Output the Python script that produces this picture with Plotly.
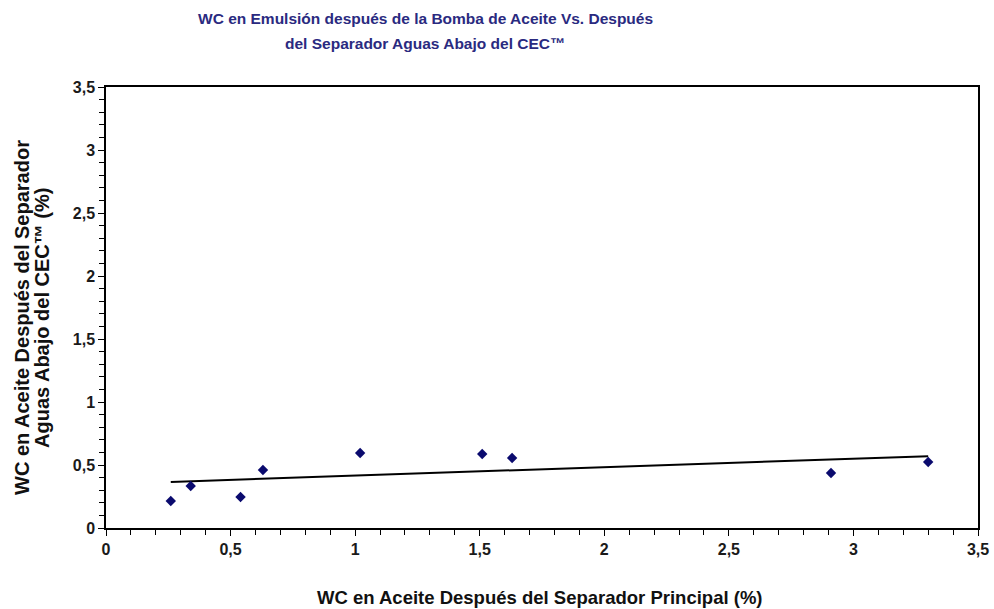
import numpy as np
import plotly.graph_objects as go

x_vals = [0.26, 0.34, 0.54, 0.63, 1.02, 1.51, 1.63, 2.91, 3.30]
y_vals = [0.214, 0.333, 0.246, 0.46, 0.595, 0.587, 0.556, 0.437, 0.524]

title_lines = ["WC en Emulsión después de la Bomba de Aceite Vs. Después",
               "del Separador Aguas Abajo del CEC™"]
x_title = "WC en Aceite Después del Separador Principal (%)"
y_title_lines = ["WC en Aceite Después del Separador",
                 "Aguas Abajo del CEC™ (%)"]

slope, intercept = np.polyfit(x_vals, y_vals, 1)
tx = [min(x_vals), max(x_vals)]
ty = [slope * v + intercept for v in tx]

fig = go.Figure()
fig.add_trace(go.Scatter(x=tx, y=ty, mode="lines",
                         line=dict(color="black", width=2), hoverinfo="skip"))
fig.add_trace(go.Scatter(x=x_vals, y=y_vals, mode="markers",
                         marker=dict(symbol="diamond", size=8, color="#0a0a6e")))

tick_font = dict(family="Liberation Sans", size=16, color="#1a1a1a", weight="bold")

axis_common = dict(
    range=[0, 3.5], dtick=0.5, showline=True, linecolor="black", linewidth=1.5,
    mirror=True, ticks="outside", ticklen=6, tickwidth=1.2, tickcolor="black",
    showgrid=False, zeroline=False, automargin=False,
    tickfont=tick_font,
    minor=dict(dtick=0.1, ticks="outside", ticklen=5, tickwidth=1, tickcolor="black", showgrid=False),
)

L, R, T, B, W, H = 106, 16, 87, 81, 994, 609
pw, ph = W - L - R, H - T - B

def px_x(p):
    return (p - L) / pw

def px_y(p):
    return (H - B - p) / ph

fig.update_layout(
    width=W, height=H,
    margin=dict(l=L, r=R, t=T, b=B),
    paper_bgcolor="white", plot_bgcolor="white",
    showlegend=False,
    separators=",.",
    xaxis=dict(**axis_common),
    yaxis=dict(**axis_common),
)

title_font = dict(family="Liberation Sans", size=15.5, color="#2a2a80", weight="bold")
for line, yc in zip(title_lines, [18, 43]):
    fig.add_annotation(text=line, xref="paper", yref="paper",
                       x=px_x(425), y=px_y(yc), xanchor="center", yanchor="middle",
                       showarrow=False, font=title_font)

fig.add_annotation(text=x_title, xref="paper", yref="paper",
                   x=px_x(540), y=px_y(597), xanchor="center", yanchor="middle",
                   showarrow=False,
                   font=dict(family="Liberation Sans", size=18.5, color="#111111", weight="bold"))

for line, xc in zip(y_title_lines, [22, 42]):
    fig.add_annotation(text=line, xref="paper", yref="paper", textangle=-90,
                       x=px_x(xc), y=px_y(318), xanchor="center", yanchor="middle",
                       showarrow=False,
                       font=dict(family="Liberation Sans", size=20, color="#111111", weight="bold"))

fig.write_html("out.html")
